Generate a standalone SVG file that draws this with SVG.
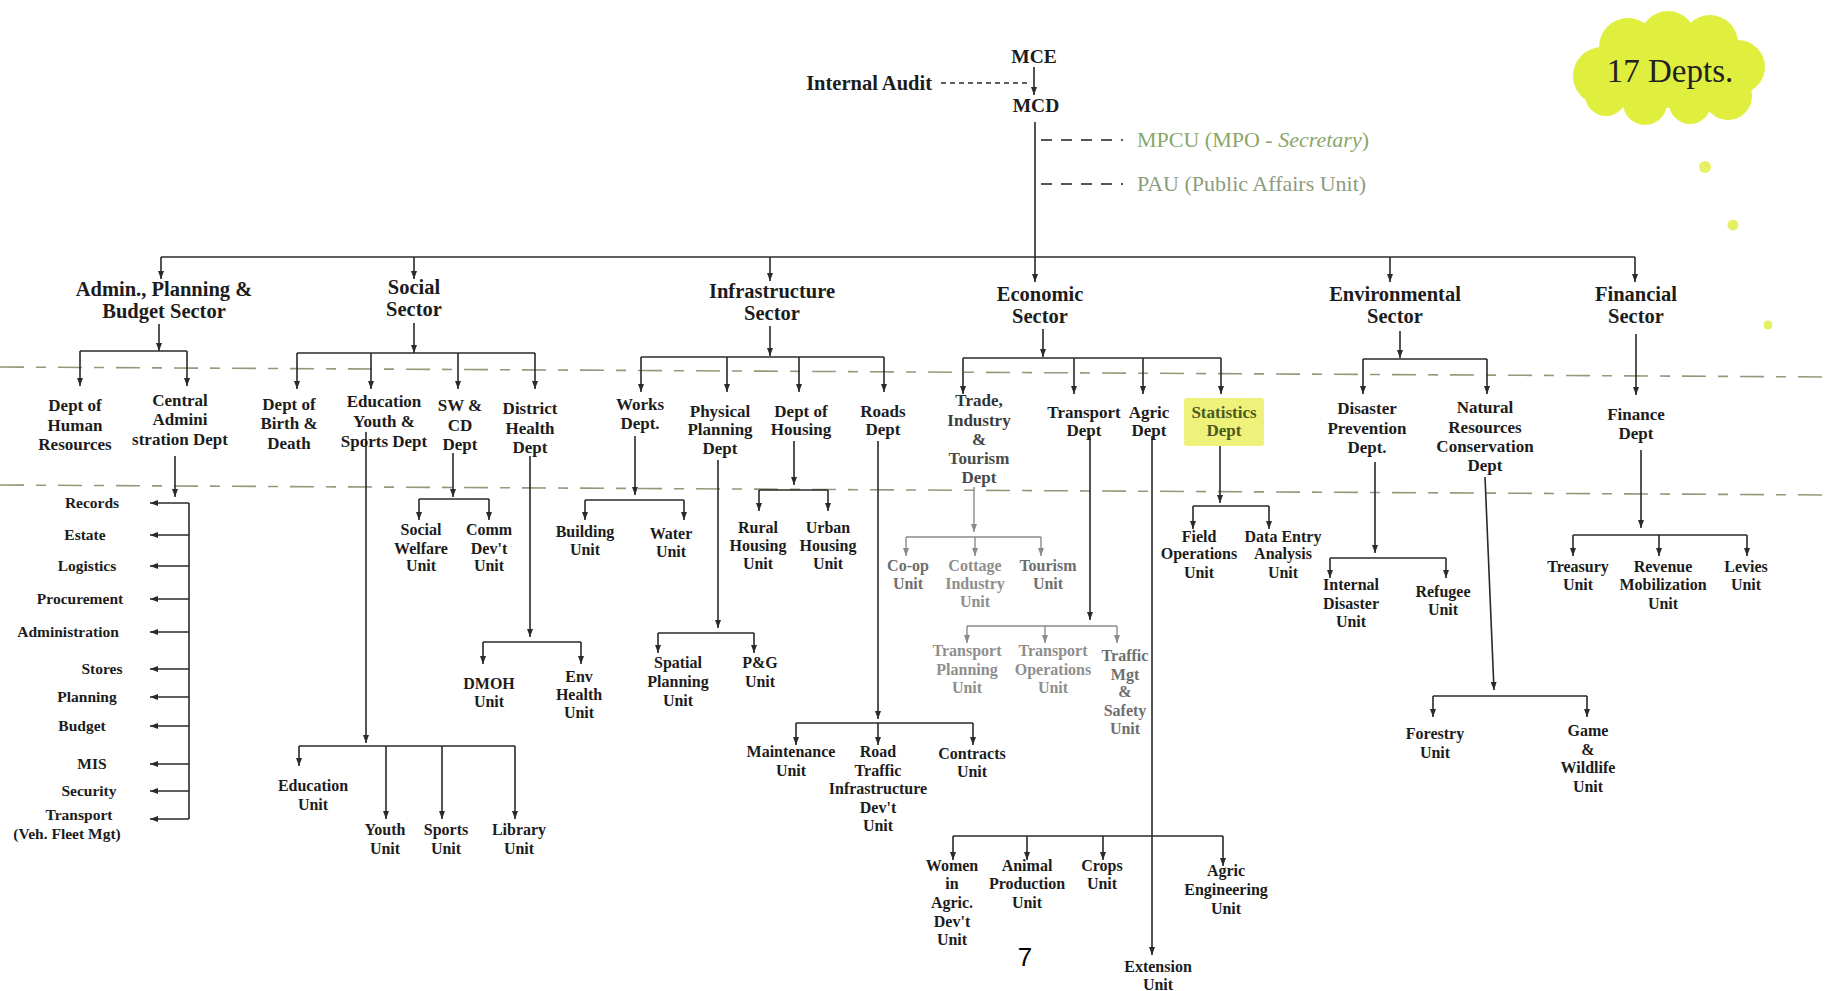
<svg xmlns="http://www.w3.org/2000/svg" width="1834" height="991" viewBox="0 0 1834 991">
<defs>
<marker id="ah" viewBox="0 0 8 6" refX="8" refY="3" markerWidth="8" markerHeight="6" markerUnits="userSpaceOnUse" orient="auto"><path d="M0,0 L8,3 L0,6 z" fill="#2a2a2a"/></marker>
<marker id="ahg" viewBox="0 0 8 6" refX="8" refY="3" markerWidth="8" markerHeight="6" markerUnits="userSpaceOnUse" orient="auto"><path d="M0,0 L8,3 L0,6 z" fill="#8a8a8a"/></marker>
<style>
text{font-family:"Liberation Serif","Times New Roman",serif;font-weight:bold;fill:#1c1c1c;text-anchor:middle}
.sec{font-size:20.5px}
.dept{font-size:17px}
.unit{font-size:16px}
.item{font-size:15.5px}
.top{font-size:19.5px}
.grey{fill:#6e6e6e}
.lgrey{fill:#8e8e8e}
.ln{stroke:#2a2a2a;stroke-width:1.6;fill:none}
.arr{stroke:#2a2a2a;stroke-width:1.6;fill:none;marker-end:url(#ah)}
.garr{stroke:#8a8a8a;stroke-width:1.4;fill:none;marker-end:url(#ahg)}
.gln{stroke:#8a8a8a;stroke-width:1.4;fill:none}
.band{stroke:#8f9a78;stroke-width:1.6;fill:none;stroke-dasharray:24 12 10 12}
.dash{stroke:#2a2a2a;stroke-width:1.6;fill:none;stroke-dasharray:5 4}
.gdash{stroke:#555;stroke-width:2.2;fill:none;stroke-dasharray:11 9}
</style>
</defs>
<rect width="1834" height="991" fill="#ffffff"/>

<g id="bands">
<path class="band" d="M0,367 L1834,377"/>
<path class="band" d="M0,485 L1834,495"/>
</g>

<g id="cloud">
<g fill="#e0ee3e">
<circle cx="1602" cy="76" r="29"/>
<circle cx="1628" cy="47" r="29"/>
<circle cx="1668" cy="39" r="28"/>
<circle cx="1710" cy="43" r="28"/>
<circle cx="1738" cy="67" r="27"/>
<circle cx="1728" cy="96" r="24"/>
<circle cx="1690" cy="103" r="21"/>
<circle cx="1645" cy="103" r="22"/>
<circle cx="1606" cy="95" r="21"/>
<ellipse cx="1670" cy="70" rx="70" ry="38"/>
</g>
<circle cx="1705" cy="167" r="6" fill="#e6f064"/>
<circle cx="1733" cy="225" r="5.5" fill="#e6f064"/>
<circle cx="1768" cy="325" r="4.5" fill="#e6f064"/>
<text x="1670" y="82" style="font-size:33px;font-weight:normal;fill:#222">17 Depts.</text>
</g>

<g id="connectors">
<path class="arr" d="M1034,67 V95"/>
<path class="dash" d="M941,83 H1030"/>
<path class="ln" d="M1035,122 V257"/>
<path class="gdash" d="M1041,140 H1123"/>
<path class="gdash" d="M1041,184 H1123"/>
<path class="ln" d="M161,257 H1635"/>
<path class="arr" d="M161,257 V279"/>
<path class="arr" d="M414,257 V279"/>
<path class="arr" d="M770,257 V281"/>
<path class="arr" d="M1035,257 V282"/>
<path class="arr" d="M1390,257 V282"/>
<path class="arr" d="M1635,257 V282"/>

<!-- Admin -->
<path class="arr" d="M159,324 V351"/>
<path class="ln" d="M80,351 H187"/>
<path class="arr" d="M80,351 V386"/>
<path class="arr" d="M187,351 V386"/>
<path class="arr" d="M175,456 V497"/>
<path class="ln" d="M189,503 V819"/>
<path class="arr" d="M189,503 H150"/>
<path class="arr" d="M189,535 H150"/>
<path class="arr" d="M189,566 H150"/>
<path class="arr" d="M189,599 H150"/>
<path class="arr" d="M189,632 H150"/>
<path class="arr" d="M189,669 H150"/>
<path class="arr" d="M189,697 H150"/>
<path class="arr" d="M189,726 H150"/>
<path class="arr" d="M189,764 H150"/>
<path class="arr" d="M189,791 H150"/>
<path class="arr" d="M189,819 H150"/>

<!-- Social -->
<path class="arr" d="M414,323 V353"/>
<path class="ln" d="M297,353 H535"/>
<path class="arr" d="M297,353 V389"/>
<path class="arr" d="M371,353 V389"/>
<path class="arr" d="M458,353 V389"/>
<path class="arr" d="M535,353 V389"/>
<path class="arr" d="M366,432 V743"/>
<path class="ln" d="M299,746 H515"/>
<path class="arr" d="M299,746 V766"/>
<path class="arr" d="M386,746 V819"/>
<path class="arr" d="M442,746 V819"/>
<path class="arr" d="M515,746 V819"/>
<path class="arr" d="M453,453 V497"/>
<path class="ln" d="M419,499 H489"/>
<path class="arr" d="M419,499 V520"/>
<path class="arr" d="M489,499 V520"/>
<path class="arr" d="M530,456 V637"/>
<path class="ln" d="M483,642 H581"/>
<path class="arr" d="M483,642 V664"/>
<path class="arr" d="M581,642 V664"/>

<!-- Infrastructure -->
<path class="arr" d="M770,326 V356"/>
<path class="ln" d="M641,357 H884"/>
<path class="arr" d="M641,357 V392"/>
<path class="arr" d="M727,357 V392"/>
<path class="arr" d="M799,357 V392"/>
<path class="arr" d="M884,357 V392"/>
<path class="arr" d="M635,436 V495"/>
<path class="ln" d="M585,500 H684"/>
<path class="arr" d="M585,500 V520"/>
<path class="arr" d="M684,500 V520"/>
<path class="arr" d="M718,460 V628"/>
<path class="ln" d="M658,633 H754"/>
<path class="arr" d="M658,633 V653"/>
<path class="arr" d="M754,633 V653"/>
<path class="arr" d="M794,441 V485"/>
<path class="ln" d="M759,490 H828"/>
<path class="arr" d="M759,490 V511"/>
<path class="arr" d="M828,490 V511"/>
<path class="arr" d="M878,441 V719"/>
<path class="ln" d="M796,723 H973"/>
<path class="arr" d="M796,723 V745"/>
<path class="arr" d="M878,723 V745"/>
<path class="arr" d="M973,723 V745"/>

<!-- Economic -->
<path class="arr" d="M1043,329 V357"/>
<path class="ln" d="M963,358 H1221"/>
<path class="arr" d="M963,358 V394"/>
<path class="arr" d="M1074,358 V394"/>
<path class="arr" d="M1143,358 V394"/>
<path class="arr" d="M1221,358 V394"/>
<path class="garr" d="M974,487 V532"/>
<path class="gln" d="M906,537 H1041"/>
<path class="garr" d="M906,537 V556"/>
<path class="garr" d="M975,537 V556"/>
<path class="garr" d="M1041,537 V556"/>
<path class="arr" d="M1090,436 V620"/>
<path class="gln" d="M967,626 H1117"/>
<path class="garr" d="M967,626 V643"/>
<path class="garr" d="M1045,626 V643"/>
<path class="garr" d="M1117,626 V643"/>
<path class="arr" d="M1152,436 V955"/>
<path class="ln" d="M953,836 H1223"/>
<path class="arr" d="M953,836 V860"/>
<path class="arr" d="M1027,836 V860"/>
<path class="arr" d="M1103,836 V860"/>
<path class="arr" d="M1223,836 V866"/>
<path class="arr" d="M1220,446 V503"/>
<path class="ln" d="M1193,506 H1269"/>
<path class="arr" d="M1193,506 V529"/>
<path class="arr" d="M1269,506 V529"/>

<!-- Environmental -->
<path class="arr" d="M1400,331 V358"/>
<path class="ln" d="M1363,359 H1487"/>
<path class="arr" d="M1363,359 V394"/>
<path class="arr" d="M1487,359 V394"/>
<path class="arr" d="M1375,462 V553"/>
<path class="ln" d="M1330,558 H1446"/>
<path class="arr" d="M1330,558 V578"/>
<path class="arr" d="M1446,558 V578"/>
<path class="arr" d="M1485,477 L1494,690"/>
<path class="ln" d="M1433,696 H1587"/>
<path class="arr" d="M1433,696 V717"/>
<path class="arr" d="M1587,696 V717"/>

<!-- Financial -->
<path class="arr" d="M1636,334 V395"/>
<path class="arr" d="M1641,450 V528"/>
<path class="ln" d="M1573,535 H1747"/>
<path class="arr" d="M1573,535 V556"/>
<path class="arr" d="M1659,535 V556"/>
<path class="arr" d="M1747,535 V556"/>
</g>

<g id="mce"><text class="top" x="1034" y="63">MCE</text></g>
<g id="mcd"><text class="top" x="1036" y="112">MCD</text></g>
<g id="internal-audit"><text class="top" x="932" y="90" style="text-anchor:end;font-size:20.5px">Internal Audit</text></g>
<g id="mpcu"><text x="1137" y="147" style="font-size:22px;font-weight:normal;fill:#8aa66a;text-anchor:start">MPCU (MPO - <tspan font-style="italic">Secretary</tspan>)</text></g>
<g id="pau"><text x="1137" y="191" style="font-size:22px;font-weight:normal;fill:#8c9c7e;text-anchor:start">PAU (Public Affairs Unit)</text></g>

<g id="sector-admin"><text class="sec" x="164" y="296">Admin., Planning &amp;</text><text class="sec" x="164" y="318">Budget Sector</text></g>
<g id="sector-social"><text class="sec" x="414" y="294">Social</text><text class="sec" x="414" y="316">Sector</text></g>
<g id="sector-infra"><text class="sec" x="772" y="298">Infrastructure</text><text class="sec" x="772" y="320">Sector</text></g>
<g id="sector-econ"><text class="sec" x="1040" y="301">Economic</text><text class="sec" x="1040" y="323">Sector</text></g>
<g id="sector-env"><text class="sec" x="1395" y="301">Environmental</text><text class="sec" x="1395" y="323">Sector</text></g>
<g id="sector-fin"><text class="sec" x="1636" y="301">Financial</text><text class="sec" x="1636" y="323">Sector</text></g>

<g id="dept-hr"><text class="dept" x="75" y="411">Dept of</text><text class="dept" x="75" y="431">Human</text><text class="dept" x="75" y="450">Resources</text></g>
<g id="dept-central"><text class="dept" x="180" y="406">Central</text><text class="dept" x="180" y="425">Admini</text><text class="dept" x="180" y="445">stration Dept</text></g>

<g id="admin-units">
<text class="item" x="92" y="508">Records</text>
<text class="item" x="85" y="540">Estate</text>
<text class="item" x="87" y="571">Logistics</text>
<text class="item" x="80" y="604">Procurement</text>
<text class="item" x="68" y="637">Administration</text>
<text class="item" x="102" y="674">Stores</text>
<text class="item" x="87" y="702">Planning</text>
<text class="item" x="82" y="731">Budget</text>
<text class="item" x="92" y="769">MIS</text>
<text class="item" x="89" y="796">Security</text>
<text class="item" x="79" y="820">Transport</text>
<text class="item" x="67" y="839">(Veh. Fleet Mgt)</text>
</g>

<g id="dept-birth"><text class="dept" x="289" y="410">Dept of</text><text class="dept" x="289" y="429">Birth &amp;</text><text class="dept" x="289" y="449">Death</text></g>
<g id="dept-education"><text class="dept" x="384" y="407">Education</text><text class="dept" x="384" y="427">Youth &amp;</text><text class="dept" x="384" y="447">Sports Dept</text></g>
<g id="dept-swcd"><text class="dept" x="460" y="411">SW &amp;</text><text class="dept" x="460" y="431">CD</text><text class="dept" x="460" y="450">Dept</text></g>
<g id="dept-health"><text class="dept" x="530" y="414">District</text><text class="dept" x="530" y="434">Health</text><text class="dept" x="530" y="453">Dept</text></g>
<g id="unit-sw"><text class="unit" x="421" y="535">Social</text><text class="unit" x="421" y="554">Welfare</text><text class="unit" x="421" y="571">Unit</text></g>
<g id="unit-comm"><text class="unit" x="489" y="535">Comm</text><text class="unit" x="489" y="554">Dev't</text><text class="unit" x="489" y="571">Unit</text></g>
<g id="unit-dmoh"><text class="unit" x="489" y="689">DMOH</text><text class="unit" x="489" y="707">Unit</text></g>
<g id="unit-env"><text class="unit" x="579" y="682">Env</text><text class="unit" x="579" y="700">Health</text><text class="unit" x="579" y="718">Unit</text></g>
<g id="unit-edu"><text class="unit" x="313" y="791">Education</text><text class="unit" x="313" y="810">Unit</text></g>
<g id="unit-youth"><text class="unit" x="385" y="835">Youth</text><text class="unit" x="385" y="854">Unit</text></g>
<g id="unit-sports"><text class="unit" x="446" y="835">Sports</text><text class="unit" x="446" y="854">Unit</text></g>
<g id="unit-library"><text class="unit" x="519" y="835">Library</text><text class="unit" x="519" y="854">Unit</text></g>

<g id="dept-works"><text class="dept" x="640" y="410">Works</text><text class="dept" x="640" y="429">Dept.</text></g>
<g id="dept-physical"><text class="dept" x="720" y="417">Physical</text><text class="dept" x="720" y="435">Planning</text><text class="dept" x="720" y="454">Dept</text></g>
<g id="dept-housing"><text class="dept" x="801" y="417">Dept of</text><text class="dept" x="801" y="435">Housing</text></g>
<g id="dept-roads"><text class="dept" x="883" y="417">Roads</text><text class="dept" x="883" y="435">Dept</text></g>
<g id="unit-building"><text class="unit" x="585" y="537">Building</text><text class="unit" x="585" y="555">Unit</text></g>
<g id="unit-water"><text class="unit" x="671" y="539">Water</text><text class="unit" x="671" y="557">Unit</text></g>
<g id="unit-spatial"><text class="unit" x="678" y="668">Spatial</text><text class="unit" x="678" y="687">Planning</text><text class="unit" x="678" y="706">Unit</text></g>
<g id="unit-pg"><text class="unit" x="760" y="668">P&amp;G</text><text class="unit" x="760" y="687">Unit</text></g>
<g id="unit-rural"><text class="unit" x="758" y="533">Rural</text><text class="unit" x="758" y="551">Housing</text><text class="unit" x="758" y="569">Unit</text></g>
<g id="unit-urban"><text class="unit" x="828" y="533">Urban</text><text class="unit" x="828" y="551">Housing</text><text class="unit" x="828" y="569">Unit</text></g>
<g id="unit-maint"><text class="unit" x="791" y="757">Maintenance</text><text class="unit" x="791" y="776">Unit</text></g>
<g id="unit-road"><text class="unit" x="878" y="757">Road</text><text class="unit" x="878" y="776">Traffic</text><text class="unit" x="878" y="794">Infrastructure</text><text class="unit" x="878" y="813">Dev't</text><text class="unit" x="878" y="831">Unit</text></g>
<g id="unit-contracts"><text class="unit" x="972" y="759">Contracts</text><text class="unit" x="972" y="777">Unit</text></g>

<g id="dept-trade"><text class="dept" x="979" y="406" style="fill:#333">Trade,</text><text class="dept" x="979" y="426" style="fill:#3c3c3c">Industry</text><text class="dept" x="979" y="445" style="fill:#444">&amp;</text><text class="dept" x="979" y="464" style="fill:#4a4a4a">Tourism</text><text class="dept" x="979" y="483" style="fill:#4a4a4a">Dept</text></g>
<g id="dept-transport"><text class="dept" x="1084" y="418">Transport</text><text class="dept" x="1084" y="436">Dept</text></g>
<g id="dept-agric"><text class="dept" x="1149" y="418">Agric</text><text class="dept" x="1149" y="436">Dept</text></g>
<g id="dept-stats"><rect x="1184" y="398" width="80" height="48" rx="3" fill="#eef27a"/><text class="dept" x="1224" y="418" style="fill:#4b5a1e">Statistics</text><text class="dept" x="1224" y="436" style="fill:#4b5a1e">Dept</text></g>
<g id="unit-coop"><text class="unit grey" x="908" y="571">Co-op</text><text class="unit grey" x="908" y="589">Unit</text></g>
<g id="unit-cottage"><text class="unit lgrey" x="975" y="571">Cottage</text><text class="unit lgrey" x="975" y="589">Industry</text><text class="unit lgrey" x="975" y="607">Unit</text></g>
<g id="unit-tourism"><text class="unit grey" x="1048" y="571">Tourism</text><text class="unit grey" x="1048" y="589">Unit</text></g>
<g id="unit-tplanning"><text class="unit lgrey" x="967" y="656">Transport</text><text class="unit lgrey" x="967" y="675">Planning</text><text class="unit lgrey" x="967" y="693">Unit</text></g>
<g id="unit-toperations"><text class="unit lgrey" x="1053" y="656">Transport</text><text class="unit lgrey" x="1053" y="675">Operations</text><text class="unit lgrey" x="1053" y="693">Unit</text></g>
<g id="unit-traffic"><text class="unit grey" x="1125" y="661">Traffic</text><text class="unit grey" x="1125" y="680">Mgt</text><text class="unit grey" x="1125" y="697">&amp;</text><text class="unit grey" x="1125" y="716">Safety</text><text class="unit grey" x="1125" y="734">Unit</text></g>
<g id="unit-field"><text class="unit" x="1199" y="542">Field</text><text class="unit" x="1199" y="559">Operations</text><text class="unit" x="1199" y="578">Unit</text></g>
<g id="unit-dataentry"><text class="unit" x="1283" y="542">Data Entry</text><text class="unit" x="1283" y="559">Analysis</text><text class="unit" x="1283" y="578">Unit</text></g>
<g id="unit-women"><text class="unit" x="952" y="871">Women</text><text class="unit" x="952" y="889">in</text><text class="unit" x="952" y="908">Agric.</text><text class="unit" x="952" y="927">Dev't</text><text class="unit" x="952" y="945">Unit</text></g>
<g id="unit-animal"><text class="unit" x="1027" y="871">Animal</text><text class="unit" x="1027" y="889">Production</text><text class="unit" x="1027" y="908">Unit</text></g>
<g id="unit-crops"><text class="unit" x="1102" y="871">Crops</text><text class="unit" x="1102" y="889">Unit</text></g>
<g id="unit-agreng"><text class="unit" x="1226" y="876">Agric</text><text class="unit" x="1226" y="895">Engineering</text><text class="unit" x="1226" y="914">Unit</text></g>
<g id="unit-extension"><text class="unit" x="1158" y="972">Extension</text><text class="unit" x="1158" y="990">Unit</text></g>

<g id="dept-disaster"><text class="dept" x="1367" y="414">Disaster</text><text class="dept" x="1367" y="434">Prevention</text><text class="dept" x="1367" y="453">Dept.</text></g>
<g id="dept-nrc"><text class="dept" x="1485" y="413">Natural</text><text class="dept" x="1485" y="433">Resources</text><text class="dept" x="1485" y="452">Conservation</text><text class="dept" x="1485" y="471">Dept</text></g>
<g id="unit-internal"><text class="unit" x="1351" y="590">Internal</text><text class="unit" x="1351" y="609">Disaster</text><text class="unit" x="1351" y="627">Unit</text></g>
<g id="unit-refugee"><text class="unit" x="1443" y="597">Refugee</text><text class="unit" x="1443" y="615">Unit</text></g>
<g id="unit-forestry"><text class="unit" x="1435" y="739">Forestry</text><text class="unit" x="1435" y="758">Unit</text></g>
<g id="unit-game"><text class="unit" x="1588" y="736">Game</text><text class="unit" x="1588" y="755">&amp;</text><text class="unit" x="1588" y="773">Wildlife</text><text class="unit" x="1588" y="792">Unit</text></g>

<g id="dept-finance"><text class="dept" x="1636" y="420">Finance</text><text class="dept" x="1636" y="439">Dept</text></g>
<g id="unit-treasury"><text class="unit" x="1578" y="572">Treasury</text><text class="unit" x="1578" y="590">Unit</text></g>
<g id="unit-revenue"><text class="unit" x="1663" y="572">Revenue</text><text class="unit" x="1663" y="590">Mobilization</text><text class="unit" x="1663" y="609">Unit</text></g>
<g id="unit-levies"><text class="unit" x="1746" y="572">Levies</text><text class="unit" x="1746" y="590">Unit</text></g>

<g id="page-number"><text x="1025" y="966" style="font-family:'Liberation Sans',Arial,sans-serif;font-weight:normal;font-size:26px;fill:#000">7</text></g>
</svg>
